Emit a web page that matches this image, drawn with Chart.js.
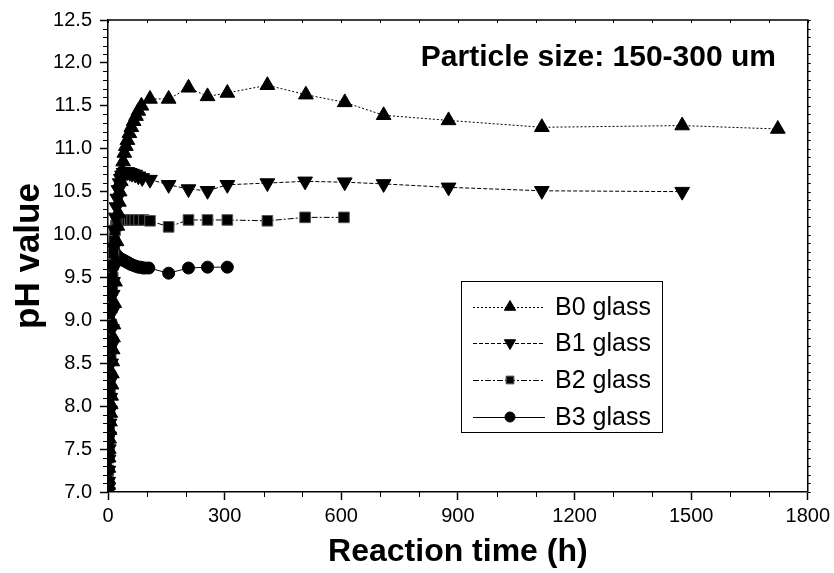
<!DOCTYPE html>
<html>
<head>
<meta charset="utf-8">
<script src="https://cdn.jsdelivr.net/npm/chart.js@4/dist/chart.umd.min.js"></script>
<style>
  html, body { margin: 0; padding: 0; background: #fff; }
  #wrap { width: 834px; height: 573px; position: relative; }
</style>
</head>
<body>
<div id="wrap"><canvas id="c" width="834" height="573"></canvas></div>
<script>
// ---- Data ----
const seriesNames = ["B0 glass", "B1 glass", "B2 glass", "B3 glass"];
const chartTitle = "Particle size: 150-300 um";
const xTitle = "Reaction time (h)";
const yTitle = "pH value";

const timeB0 = [0, 0.25, 0.5, 1, 1.5, 2, 3, 4, 5, 6, 7, 8, 9, 10, 11, 12, 13, 14, 16, 18, 20, 22, 24, 26, 28, 30, 33, 36, 39, 42, 46, 50, 55, 60, 66, 72, 78, 86, 108, 156, 207, 256, 307, 410, 509, 609, 709, 876, 1116, 1477, 1723];
const phB0   = [7.02, 7.08, 7.15, 7.28, 7.4, 7.5, 7.62, 7.72, 7.82, 7.92, 8.02, 8.12, 8.25, 8.38, 8.52, 8.66, 8.8, 8.95, 9.2, 9.45, 9.7, 9.92, 10.1, 10.25, 10.38, 10.5, 10.62, 10.75, 10.85, 10.95, 11.03, 11.1, 11.18, 11.25, 11.32, 11.38, 11.44, 11.5, 11.58, 11.58, 11.71, 11.61, 11.65, 11.74, 11.63, 11.54, 11.39, 11.33, 11.25, 11.27, 11.23];

const timeB1 = [0, 0.25, 0.5, 1, 1.5, 2, 3, 4, 5, 6, 7, 8, 9, 10, 11, 12, 13, 14, 16, 18, 20, 22, 24, 27, 30, 33, 36, 40, 45, 50, 56, 62, 70, 78, 88, 108, 156, 207, 256, 307, 410, 507, 609, 709, 876, 1116, 1477];
const phB1   = [7.0, 7.05, 7.12, 7.25, 7.38, 7.5, 7.65, 7.8, 7.95, 8.1, 8.3, 8.5, 8.7, 8.9, 9.1, 9.3, 9.45, 9.6, 9.85, 10.05, 10.2, 10.32, 10.42, 10.52, 10.6, 10.65, 10.69, 10.72, 10.73, 10.73, 10.72, 10.71, 10.7, 10.68, 10.66, 10.64, 10.58, 10.53, 10.51, 10.58, 10.60, 10.62, 10.61, 10.59, 10.55, 10.51, 10.50];

const timeB2 = [0, 0.25, 0.5, 1, 1.5, 2, 3, 4, 5, 6, 7, 8, 9, 10, 11, 12, 13, 14, 16, 18, 20, 22, 24, 27, 30, 34, 38, 44, 50, 56, 62, 70, 80, 92, 108, 156, 207, 256, 307, 410, 507, 607];
const phB2   = [7.0, 7.05, 7.12, 7.25, 7.4, 7.55, 7.75, 7.95, 8.15, 8.35, 8.55, 8.75, 8.95, 9.15, 9.35, 9.5, 9.65, 9.78, 9.95, 10.05, 10.1, 10.13, 10.15, 10.16, 10.17, 10.17, 10.17, 10.17, 10.17, 10.17, 10.17, 10.17, 10.17, 10.17, 10.16, 10.09, 10.17, 10.17, 10.17, 10.16, 10.20, 10.20];

const timeB3 = [0, 0.1, 0.25, 0.5, 0.75, 1, 1.25, 1.5, 2, 2.5, 3, 3.5, 4, 5, 6, 7, 8, 10, 12, 14, 16, 20, 24, 28, 32, 36, 40, 44, 48, 52, 56, 60, 66, 72, 78, 84, 90, 96, 105, 156, 207, 256, 307];
const phB3   = [7.0, 7.1, 7.25, 7.45, 7.65, 7.8, 8.0, 8.3, 8.7, 9.0, 9.25, 9.42, 9.55, 9.68, 9.76, 9.81, 9.84, 9.85, 9.84, 9.82, 9.8, 9.77, 9.75, 9.73, 9.72, 9.71, 9.7, 9.69, 9.68, 9.67, 9.66, 9.65, 9.64, 9.63, 9.62, 9.62, 9.61, 9.61, 9.61, 9.55, 9.61, 9.62, 9.62];

const xTicks = [0, 300, 600, 900, 1200, 1500, 1800];
const yTicks = [7.0, 7.5, 8.0, 8.5, 9.0, 9.5, 10.0, 10.5, 11.0, 11.5, 12.0, 12.5];

function pts(t, v) { return t.map((x, i) => ({ x: x, y: v[i] })); }

const styles = [
  { dash: [2, 2], pointStyle: 'triangle', rotation: 0, r: 8.5, lr: 6.5, pb: '#000' },
  { dash: [4, 2], pointStyle: 'triangle', rotation: 180, r: 8.5, lr: 6.5, pb: '#000' },
  { dash: [6, 2, 2, 2], pointStyle: 'rect', rotation: 0, r: 7.5, lr: 5.5, pb: '#555' },
  { dash: [], pointStyle: 'circle', rotation: 0, r: 6, lr: 5, pb: '#000' }
];
const allData = [pts(timeB0, phB0), pts(timeB1, phB1), pts(timeB2, phB2), pts(timeB3, phB3)];

const datasets = allData.map((d, i) => ({
  label: seriesNames[i],
  data: d,
  borderColor: '#000',
  backgroundColor: '#000',
  borderWidth: 1,
  borderDash: styles[i].dash,
  pointStyle: styles[i].pointStyle,
  rotation: styles[i].rotation,
  pointRadius: styles[i].r,
  pointHoverRadius: styles[i].r,
  pointBackgroundColor: '#000',
  pointBorderColor: styles[i].pb,
  pointBorderWidth: 1,
  tension: 0,
  fill: false
}));

const FONT = "'Liberation Sans', Arial, Helvetica, sans-serif";

const decor = {
  id: 'decor',
  afterDraw(chart) {
    const ctx = chart.ctx;
    const xs = chart.scales.x, ys = chart.scales.y;
    const a = chart.chartArea;
    ctx.save();
    ctx.strokeStyle = '#000';
    ctx.lineWidth = 1.5;
    // top and right frame
    ctx.beginPath();
    ctx.moveTo(a.left, a.top); ctx.lineTo(a.right, a.top); ctx.lineTo(a.right, a.bottom);
    ctx.stroke();
    ctx.lineWidth = 1;
    // minor y ticks (left) and right ticks
    for (let i = 70; i <= 125; i++) {
      const y = Math.round(ys.getPixelForValue(i / 10)) + 0.5;
      ctx.beginPath();
      if (i % 5 !== 0) { ctx.moveTo(a.left - 5, y); ctx.lineTo(a.left, y); }
      ctx.moveTo(a.right, y); ctx.lineTo(a.right + 3, y);
      ctx.stroke();
    }
    // minor x ticks (bottom) and top ticks
    for (let h = 0; h <= 1800; h += 100) {
      const x = Math.round(xs.getPixelForValue(h)) + 0.5;
      ctx.beginPath();
      if (h % 300 !== 0) { ctx.moveTo(x, a.bottom); ctx.lineTo(x, a.bottom + 5); }
      ctx.moveTo(x, a.top); ctx.lineTo(x, a.top + 3);
      ctx.stroke();
    }
    // chart title
    ctx.fillStyle = '#000';
    ctx.font = "bold 30px " + FONT;
    ctx.textAlign = 'right';
    ctx.textBaseline = 'alphabetic';
    ctx.fillText(chartTitle, 776, 66);
    // legend box
    const bx = 461, by = 281, bw = 201, bh = 151;
    ctx.lineWidth = 1;
    ctx.strokeRect(bx + 0.5, by + 0.5, bw, bh);
    const rowY = [307, 343, 380, 417];
    ctx.font = "25px " + FONT;
    ctx.textAlign = 'left';
    ctx.textBaseline = 'middle';
    for (let i = 0; i < 4; i++) {
      const y = rowY[i];
      ctx.setLineDash(styles[i].dash);
      ctx.beginPath();
      ctx.moveTo(473, y + 0.5); ctx.lineTo(545, y + 0.5);
      ctx.stroke();
      ctx.setLineDash([]);
      ctx.fillStyle = '#000';
      ctx.strokeStyle = styles[i].pb;
      Chart.helpers.drawPoint(ctx, {
        pointStyle: styles[i].pointStyle,
        rotation: styles[i].rotation,
        radius: styles[i].lr,
        borderWidth: 1
      }, 510, y);
      ctx.strokeStyle = '#000';
      ctx.fillStyle = '#000';
      ctx.fillText(seriesNames[i], 555, y + 1);
    }
    ctx.restore();
  }
};

new Chart(document.getElementById('c'), {
  type: 'line',
  data: { datasets: datasets },
  options: {
    responsive: false,
    animation: false,
    events: [],
    layout: { padding: { left: 0, right: 23, top: 20, bottom: 0 } },
    plugins: { legend: { display: false }, tooltip: { enabled: false }, title: { display: false } },
    scales: {
      x: {
        type: 'linear',
        min: 0, max: 1800,
        afterFit(s) { s.height = 81; },
        afterBuildTicks(s) { s.ticks = xTicks.map(v => ({ value: v })); },
        ticks: { color: '#000', font: { family: FONT, size: 20 }, padding: 4, maxRotation: 0,
                 callback: v => String(v) },
        grid: { drawOnChartArea: false, drawTicks: true, tickLength: 8, tickColor: '#000', tickWidth: 1.5 },
        border: { display: true, color: '#000', width: 1.5 },
        title: { display: true, text: xTitle, color: '#000', font: { family: FONT, size: 32, weight: 'bold' },
                 padding: { top: 0, bottom: 2 } }
      },
      y: {
        type: 'linear',
        min: 7.0, max: 12.5,
        afterFit(s) { s.width = 108; },
        afterBuildTicks(s) { s.ticks = yTicks.map(v => ({ value: v })); },
        ticks: { color: '#000', font: { family: FONT, size: 20 }, padding: 8,
                 callback: v => Number(v).toFixed(1) },
        grid: { drawOnChartArea: false, drawTicks: true, tickLength: 8, tickColor: '#000', tickWidth: 1.5 },
        border: { display: true, color: '#000', width: 1.5 },
        title: { display: true, text: yTitle, color: '#000', font: { family: FONT, size: 35, weight: 'bold' },
                 padding: { top: 8, bottom: 0 } }
      }
    }
  },
  plugins: [decor]
});
</script>
</body>
</html>
